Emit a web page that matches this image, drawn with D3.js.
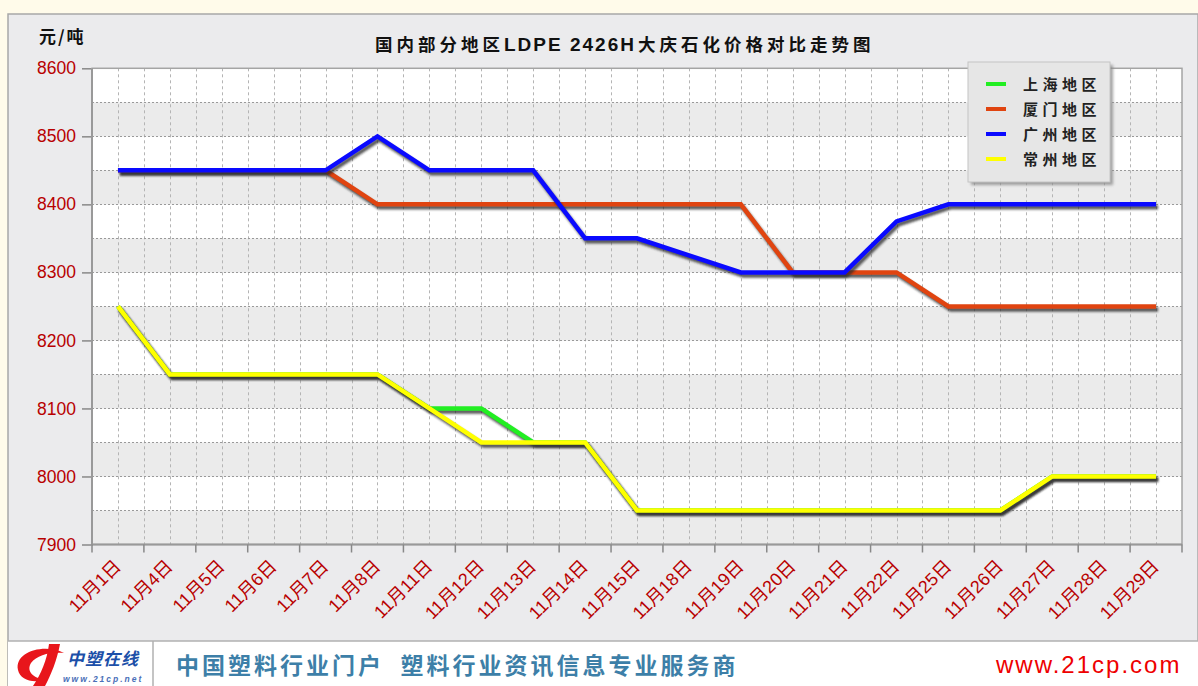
<!DOCTYPE html>
<html>
<head>
<meta charset="utf-8">
<script src="https://cdn.jsdelivr.net/npm/d3@7"></script>
<style>
html,body{margin:0;padding:0;background:#fffbea;}
svg{display:block;}
</style>
</head>
<body>
<svg id="chart" width="1198" height="686"></svg>
<script>
// ---------- data ----------
const categories = ["11月1日","11月4日","11月5日","11月6日","11月7日","11月8日","11月11日","11月12日","11月13日","11月14日","11月15日","11月18日","11月19日","11月20日","11月21日","11月22日","11月25日","11月26日","11月27日","11月28日","11月29日"];
const seriesNames = ["上海地区","厦门地区","广州地区","常州地区"];
const shanghai  = [8250,8150,8150,8150,8150,8150,8100,8100,8050,8050,7950,7950,7950,7950,7950,7950,7950,7950,8000,8000,8000];
const xiamen    = [8450,8450,8450,8450,8450,8400,8400,8400,8400,8400,8400,8400,8400,8300,8300,8300,8250,8250,8250,8250,8250];
const guangzhou = [8450,8450,8450,8450,8450,8500,8450,8450,8450,8350,8350,8325,8300,8300,8300,8375,8400,8400,8400,8400,8400];
const changzhou = [8250,8150,8150,8150,8150,8150,8100,8050,8050,8050,7950,7950,7950,7950,7950,7950,7950,7950,8000,8000,8000];
const yTicks = [7900,8000,8100,8200,8300,8400,8500,8600];
const seriesColors = ["#22ee22","#e04410","#0a0aff","#ffff00"];
const titleParts = ["国内部分地区","LDPE 2426H","大庆石化价格对比走势图"];
const unitText = "元/吨";
const bannerText = "中国塑料行业门户  塑料行业资讯信息专业服务商";
const siteText = "www.21cp.com";

const series = [shanghai, xiamen, guangzhou, changzhou];

// ---------- layout ----------
const W = 1198, H = 686;
const plot = {left: 92, right: 1182, top: 68.3, bottom: 544.5};
const svg = d3.select("#chart");
const defs = svg.append("defs");
const f = defs.append("filter").attr("id","blur").attr("x","-10%").attr("y","-10%").attr("width","120%").attr("height","120%");
f.append("feGaussianBlur").attr("stdDeviation",1.3);
const f2 = defs.append("filter").attr("id","blur2").attr("x","-10%").attr("y","-10%").attr("width","120%").attr("height","120%");
f2.append("feGaussianBlur").attr("stdDeviation",1.5);

// page background & panel
svg.append("rect").attr("width",W).attr("height",H).attr("fill","#fffbea");
svg.append("rect").attr("x",8).attr("y",14).attr("width",W-8).attr("height",H-14)
  .attr("fill","#ebebed").attr("stroke","#a8a8a8").attr("stroke-width",1.5);

const x = d3.scaleBand().domain(categories).range([plot.left, plot.right]);
const y = d3.scaleLinear().domain([7900,8600]).range([plot.bottom, plot.top]);

// bands
const bandVals = d3.range(7900, 8600, 50);
svg.append("g").selectAll("rect").data(bandVals).join("rect")
  .attr("x", plot.left).attr("width", plot.right-plot.left)
  .attr("y", d => y(d+50)).attr("height", d => y(d)-y(d+50))
  .attr("fill", d => (Math.round((8600-(d+50))/50) % 2 === 0) ? "#ffffff" : "#ebebeb");

// grid
const vx = [];
categories.forEach((c,i)=>{ vx.push(x(c)+x.bandwidth()/2); if(i>0) vx.push(x(c)); });
svg.append("g").attr("stroke","#b4b4b4").attr("stroke-width",1).attr("stroke-dasharray","3,3")
  .selectAll("line").data(vx).join("line")
  .attr("y1",plot.top).attr("y2",plot.bottom)
  .attr("x1",d=>Math.round(d)+0.5).attr("x2",d=>Math.round(d)+0.5);
svg.append("g").attr("stroke","#999").attr("stroke-width",1).attr("stroke-dasharray","2,2")
  .selectAll("line").data(d3.range(7950, 8600, 50)).join("line")
  .attr("x1",plot.left).attr("x2",plot.right)
  .attr("y1",d=>Math.round(y(d))+0.5).attr("y2",d=>Math.round(y(d))+0.5);

// frame
svg.append("rect").attr("x",plot.left).attr("y",plot.top).attr("width",plot.right-plot.left).attr("height",plot.bottom-plot.top)
  .attr("fill","none").attr("stroke","#a4a4a4").attr("stroke-width",1.5);
svg.append("line").attr("x1",plot.left).attr("x2",plot.left).attr("y1",plot.top).attr("y2",plot.bottom+1).attr("stroke","#999").attr("stroke-width",2);
svg.append("line").attr("x1",plot.left).attr("x2",plot.right).attr("y1",plot.bottom).attr("y2",plot.bottom).attr("stroke","#999").attr("stroke-width",2);

// y axis
const yAxis = d3.axisLeft(y).tickValues(yTicks).tickSize(9).tickPadding(6).tickFormat(d3.format("d"));
const gy = svg.append("g").attr("transform",`translate(${plot.left-1},0)`).call(yAxis);
gy.select(".domain").remove();
gy.selectAll(".tick line").attr("stroke","#888").attr("stroke-width",1.5);
gy.selectAll(".tick text").attr("fill","#b80000").attr("font-family","Liberation Sans, Arial, sans-serif").attr("font-size",17.5);

// x axis: ticks at band edges
const edges = categories.map(c=>x(c)).concat([plot.right]);
svg.append("g").selectAll("line").data(edges).join("line")
  .attr("x1",d=>d).attr("x2",d=>d).attr("y1",plot.bottom).attr("y2",plot.bottom+8)
  .attr("stroke","#888").attr("stroke-width",1.5);
svg.append("g").selectAll("text").data(categories).join("text")
  .attr("transform", d => `translate(${x(d)+x.bandwidth()/2+4},${plot.bottom+23}) rotate(-45)`)
  .attr("text-anchor","end")
  .attr("fill","#b80000").attr("font-family","Liberation Sans, 'Noto Sans CJK SC', sans-serif").attr("font-size",18)
  .text(d=>d);

// lines
const line = d3.line().x((d,i)=>x(categories[i])+x.bandwidth()/2).y(d=>y(d));
series.forEach((s,k)=>{
  svg.append("path").datum(s).attr("d",line).attr("fill","none")
    .attr("stroke","#2a2a2a").attr("stroke-opacity",0.75).attr("stroke-width",4.5)
    .attr("stroke-linejoin","round")
    .attr("transform","translate(2,3)").attr("filter","url(#blur)");
  svg.append("path").datum(s).attr("d",line).attr("fill","none")
    .attr("stroke",seriesColors[k]).attr("stroke-width",4.5).attr("stroke-linejoin","miter");
});

// title & unit
const title = svg.append("text").attr("x",375).attr("y",51).attr("font-weight","bold").attr("fill","#111");
title.append("tspan").attr("font-family","'Noto Sans CJK SC', sans-serif").attr("font-size",17.5).attr("letter-spacing",4).text(titleParts[0]);
title.append("tspan").attr("font-family","Liberation Sans, Arial, sans-serif").attr("font-size",19).attr("letter-spacing",2).text(titleParts[1]);
title.append("tspan").attr("font-family","'Noto Sans CJK SC', sans-serif").attr("font-size",17.5).attr("letter-spacing",4).attr("dx",2).text(titleParts[2]);
svg.append("text").attr("x",39).attr("y",43).attr("font-family","'Noto Sans CJK SC', sans-serif")
  .attr("font-weight","bold").attr("font-size",17).attr("letter-spacing",2).attr("fill","#111").text(unitText);

// legend
const lg = svg.append("g");
lg.append("rect").attr("x",971).attr("y",65).attr("width",142).attr("height",120).attr("fill","#8a8a8a").attr("opacity",0.8).attr("filter","url(#blur2)");
lg.append("rect").attr("x",968).attr("y",62).attr("width",142).attr("height",120).attr("fill","#e6e6e6").attr("stroke","#c4c4c4");
seriesNames.forEach((n,k)=>{
  const yy = 84 + k*25;
  lg.append("line").attr("x1",989).attr("x2",1009).attr("y1",yy+3).attr("y2",yy+3).attr("stroke","#555").attr("stroke-width",4).attr("filter","url(#blur)");
  lg.append("line").attr("x1",986).attr("x2",1006).attr("y1",yy).attr("y2",yy).attr("stroke",seriesColors[k]).attr("stroke-width",4);
  lg.append("text").attr("x",1023).attr("y",yy+6).attr("font-family","'Noto Sans CJK SC', sans-serif")
    .attr("font-weight","bold").attr("font-size",15).attr("letter-spacing",4.5).attr("fill","#222").text(n);
});

// bottom banner
svg.append("rect").attr("x",8).attr("y",641).attr("width",W-8).attr("height",H-641).attr("fill","#ffffff");
svg.append("line").attr("x1",8).attr("x2",W).attr("y1",641).attr("y2",641).attr("stroke","#b0b0b0").attr("stroke-width",1.5);
svg.append("line").attr("x1",153).attr("x2",153).attr("y1",641).attr("y2",H).attr("stroke","#b0b0b0").attr("stroke-width",1.5);
svg.append("text").attr("x",176).attr("y",674).attr("font-family","'Noto Sans CJK SC', sans-serif")
  .attr("font-weight","bold").attr("font-size",23).attr("letter-spacing",3).attr("fill","#3d7fa8").attr("xml:space","preserve").text(bannerText);
svg.append("text").attr("x",996).attr("y",673).attr("font-family","Liberation Sans, Arial, sans-serif")
  .attr("font-size",24).attr("letter-spacing",2).attr("fill","#ee0000").text(siteText);

// logo
const logo = svg.append("g");
logo.append("path").attr("d","M64,653 C44,643 14,652 18,670 C20,680 34,684 46,679 C33,679 26,671 31,663 C37,655 50,652 64,653 Z").attr("fill","#e8161b");
logo.append("path").attr("d","M49,644 L60,644 C57,660 51,675 45,686 L33,686 C41,674 47,660 49,644 Z").attr("fill","#e8161b");
logo.append("text").attr("x",67).attr("y",665).attr("font-family","'Noto Sans CJK SC', sans-serif").attr("font-weight","bold")
  .attr("font-style","italic").attr("font-size",17).attr("letter-spacing",1).attr("fill","#1c4fa8").text("中塑在线");
logo.append("text").attr("x",63).attr("y",682).attr("font-family","Liberation Sans, Arial, sans-serif").attr("font-weight","bold")
  .attr("font-style","italic").attr("font-size",8.5).attr("letter-spacing",2).attr("fill","#4a6fb8").text("www.21cp.net");
</script>
</body>
</html>
